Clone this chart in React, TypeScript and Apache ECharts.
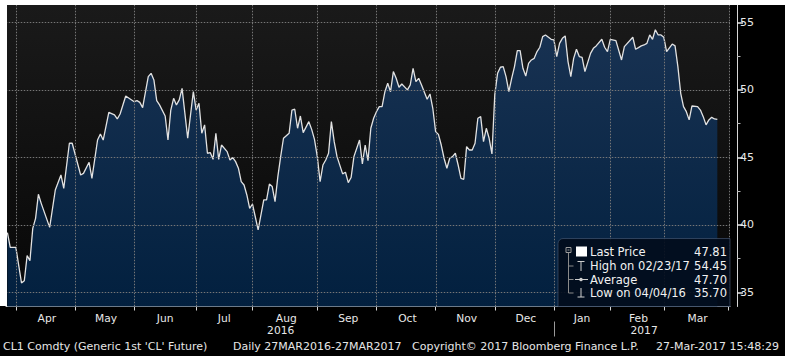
import React, { useEffect, useRef } from "react";
import * as echarts from "echarts";

// ---------- data ----------
const startDate = "2016-03-28";
const endDate = "2017-03-31";
const exchangeHolidays = [
  "2016-05-30", "2016-07-04", "2016-09-05", "2016-11-24",
  "2016-12-26", "2017-01-02", "2017-01-16", "2017-02-20",
];

// trading-day index (from 28 Mar 2016) of each point
const pointDay = [
  0, 1, 3, 5, 6, 7, 8, 9, 10, 11, 12, 15, 17, 19, 20, 22, 23, 26, 27, 29, 30, 32, 33, 34, 36, 38, 39, 40,
  42, 45, 46, 47, 48, 50, 51, 52, 53, 54, 56, 57, 58, 59, 60, 61, 62, 64, 66, 67, 68, 69, 70, 71, 72, 73,
  74, 75, 76, 78, 79, 80, 81, 82, 83, 84, 85, 86, 87, 89, 91, 92, 93, 94, 95, 96, 97, 98, 100, 101, 102,
  103, 104, 105, 107, 108, 109, 110, 111, 112, 113, 114, 115, 116, 117, 119, 120, 121, 122, 123, 125, 126,
  127, 128, 129, 130, 131, 132, 133, 134, 135, 136, 137, 138, 139, 140, 142, 143, 144, 145, 146, 147, 149,
  150, 151, 152, 153, 154, 155, 156, 157, 158, 159, 160, 161, 162, 163, 164, 165, 166, 167, 168, 169, 170,
  171, 172, 173, 174, 175, 176, 177, 178, 179, 180, 181, 182, 183, 184, 185, 186, 187, 188, 189, 190, 191,
  193, 194, 195, 196, 197, 198, 199, 200, 201, 202, 203, 204, 205, 207, 208, 209, 211, 212, 213, 214, 216,
  218, 219, 222, 223, 224, 225, 226, 227, 228, 229, 230, 231, 232, 233, 234, 236, 237, 238, 239, 240, 241,
  242, 243, 245, 246, 247, 248, 249, 250, 251, 252,
];
const pointPrice = [
  39.42, 38.33, 38.33, 35.7, 35.86, 37.72, 37.35, 39.74, 40.48, 42.26, 41.59, 39.81, 42.58, 43.69, 42.7,
  46.04, 46.04, 43.69, 43.81, 44.63, 43.44, 46.28, 46.73, 46.28, 48.33, 48.14, 47.84, 48.21,
  49.54, 49.12, 49.2, 49.07, 48.68, 50.98, 51.22, 50.73, 49.2, 48.88, 48.06, 46.28, 48.5, 49.37, 48.88,
  49.25, 50.11, 46.41, 49.86, 48.5, 49.0, 46.78, 47.4, 45.3, 45.35, 44.85,
  46.78, 44.85, 45.91, 45.42, 44.8, 44.98, 44.68, 44.19, 43.2, 42.95, 42.21, 41.22, 41.54, 39.62, 41.84,
  41.84, 43.02, 42.83, 41.72, 43.57, 45.05, 46.41, 46.78, 48.5, 48.56,
  47.15, 48.06, 46.83, 47.64, 47.07, 46.33, 45.05, 43.2, 44.43, 44.8, 45.3, 47.64, 46.16, 45.05, 43.77,
  43.89, 43.12, 43.5, 45.05, 46.28, 44.51,
  45.91, 44.75, 47.15, 47.89, 48.38, 48.75, 48.75, 49.86, 50.48, 49.86, 51.35, 50.85, 50.19, 50.43, 49.99,
  50.36, 51.59, 50.6, 50.85, 50.36, 49.3,
  49.69, 48.63, 46.9, 46.7, 45.91, 44.93, 44.19, 44.93, 45.05, 45.3, 44.43, 43.44, 43.37, 45.79, 45.54,
  45.54, 46.04, 47.89, 48.01, 46.16, 47.15,
  46.41, 45.25, 49.62, 51.22, 51.67, 51.72, 50.98, 49.86, 50.85, 51.72, 52.9, 52.9, 51.59, 51.02, 51.96,
  52.21, 52.33, 52.83, 53.15, 53.94, 54.06,
  53.74, 53.69, 52.46, 53.44, 53.81, 53.99, 52.09, 50.98, 52.33, 53.0, 52.46, 52.4, 51.35, 52.7, 53.07,
  53.25, 53.74, 53.15, 52.83, 53.74, 53.64,
  52.21, 53.2, 53.89, 53.0, 53.12, 53.25, 53.32, 53.44, 54.06, 53.74, 54.45, 54.06, 54.06, 53.89, 52.83,
  53.39, 53.25, 51.72, 49.74, 48.75, 48.38,
  47.77, 48.8, 48.75, 48.5, 48.01, 47.4, 47.77, 47.96, 47.84, 47.81,
];

const monthNames = ["Jan", "Feb", "Mar", "Apr", "May", "Jun", "Jul", "Aug", "Sep", "Oct", "Nov", "Dec"];
const yTicks = [35, 40, 45, 50, 55];
const yMinorTicks = [37.5, 42.5, 47.5, 52.5];
const yMin = 33.95;
const yMax = 56.28;
const lastPrice = 47.81;

const legendLabels = ["Last Price", "High on 02/23/17", "Average", "Low on 04/04/16"];
const legendValues = ["47.81", "54.45", "47.70", "35.70"];

const footerParts = [
  "CL1 Comdty (Generic 1st 'CL' Future)",
  "Daily 27MAR2016-27MAR2017",
  "Copyright\u00A9 2017 Bloomberg Finance L.P.",
  "27-Mar-2017 15:48:29",
];

// ---------- helpers ----------
function buildTradingDays(start: string, end: string, holidays: string[]): string[] {
  const out: string[] = [];
  const d = new Date(start + "T00:00:00Z");
  const e = new Date(end + "T00:00:00Z");
  while (d.getTime() <= e.getTime()) {
    const wd = d.getUTCDay();
    const s = d.toISOString().slice(0, 10);
    if (wd !== 0 && wd !== 6 && holidays.indexOf(s) < 0) out.push(s);
    d.setUTCDate(d.getUTCDate() + 1);
  }
  return out;
}

const tradingDays = buildTradingDays(startDate, endDate, exchangeHolidays);

const FONT = "DejaVu Sans";
const TXT = "#e8e8e8";

// plot rectangle (layout)
const G_LEFT = 6;
const G_TOP = 5;
const G_RIGHT = 730;
const G_BOTTOM = 306.5;

export default function App() {
  const ref = useRef<HTMLDivElement>(null);

  useEffect(() => {
    if (!ref.current) return;
    const chart = echarts.init(ref.current, null, { renderer: "svg" });

    const n = tradingDays.length;
    const monthEnd: number[] = [];
    const yearEnd = new Set<number>();
    const monthGroups: Record<string, number[]> = {};
    const yearGroups: Record<string, number[]> = {};
    tradingDays.forEach((d, i) => {
      const m = d.slice(0, 7);
      const y = d.slice(0, 4);
      if (i === n - 1 || m !== tradingDays[i + 1].slice(0, 7)) monthEnd.push(i);
      if (i < n - 1 && y !== tradingDays[i + 1].slice(0, 4)) yearEnd.add(i);
      (monthGroups[m] = monthGroups[m] || []).push(i);
      (yearGroups[y] = yearGroups[y] || []).push(i);
    });
    const monthEndSet = new Set<number>(monthEnd);
    const monthLabelIdx = new Set<number>();
    Object.keys(monthGroups).forEach((k) => {
      const g = monthGroups[k];
      if (g.length >= 10) monthLabelIdx.add(Math.floor((g[0] + g[g.length - 1]) / 2));
    });
    const yearLabelIdx = new Set<number>();
    Object.keys(yearGroups).forEach((k) => {
      const g = yearGroups[k];
      yearLabelIdx.add(Math.ceil((g[0] + g[g.length - 1]) / 2));
    });

    const seriesData = pointDay.map((d, i) => [tradingDays[d], pointPrice[i]]);

    const rowY = [251.5, 265.5, 279.5, 293];
    const legendEls: any[] = [
      {
        type: "rect", z: 100,
        shape: { x: 558, y: 238.5, width: 172, height: 68, r: [5, 0, 0, 0] },
        style: { fill: "rgba(2,12,28,0.9)", stroke: "rgba(80,100,130,0.55)", lineWidth: 1 },
      },
      { type: "rect", z: 101, shape: { x: 566, y: 247.5, width: 5, height: 5 }, style: { fill: "none", stroke: "#9a9a9a", lineWidth: 1 } },
      { type: "line", z: 101, shape: { x1: 567.5, y1: 250, x2: 569.5, y2: 250 }, style: { stroke: "#9a9a9a", lineWidth: 1 } },
      { type: "line", z: 101, shape: { x1: 568.5, y1: 253, x2: 568.5, y2: 293 }, style: { stroke: "#8a8a8a", lineWidth: 1 } },
      { type: "line", z: 101, shape: { x1: 568.5, y1: 266, x2: 573.5, y2: 266 }, style: { stroke: "#8a8a8a", lineWidth: 1 } },
      { type: "line", z: 101, shape: { x1: 568.5, y1: 279.5, x2: 573.5, y2: 279.5 }, style: { stroke: "#8a8a8a", lineWidth: 1 } },
      { type: "line", z: 101, shape: { x1: 568.5, y1: 293, x2: 573.5, y2: 293 }, style: { stroke: "#8a8a8a", lineWidth: 1 } },
      { type: "rect", z: 101, shape: { x: 576, y: 246.5, width: 11, height: 10 }, style: { fill: "#ffffff" } },
      { type: "line", z: 101, shape: { x1: 577.5, y1: 261.5, x2: 584.5, y2: 261.5 }, style: { stroke: "#cfcfcf", lineWidth: 1 } },
      { type: "line", z: 101, shape: { x1: 581, y1: 261.5, x2: 581, y2: 271 }, style: { stroke: "#cfcfcf", lineWidth: 1 } },
      { type: "line", z: 101, shape: { x1: 575, y1: 279.5, x2: 588, y2: 279.5 }, style: { stroke: "#cfcfcf", lineWidth: 1 } },
      { type: "circle", z: 101, shape: { cx: 581, cy: 279.5, r: 1.8 }, style: { fill: "#cfcfcf" } },
      { type: "line", z: 101, shape: { x1: 581, y1: 288, x2: 581, y2: 297 }, style: { stroke: "#cfcfcf", lineWidth: 1 } },
      { type: "line", z: 101, shape: { x1: 577.5, y1: 297, x2: 584.5, y2: 297 }, style: { stroke: "#cfcfcf", lineWidth: 1 } },
    ];
    legendLabels.forEach((t, i) => {
      legendEls.push({
        type: "text", z: 102, x: 590, y: rowY[i],
        style: { text: t, fill: "#f2f2f2", font: `11.5px '${FONT}'`, textVerticalAlign: "middle", textAlign: "left" },
      });
      legendEls.push({
        type: "text", z: 102, x: 727, y: rowY[i],
        style: { text: legendValues[i], fill: "#f2f2f2", font: `11.5px '${FONT}'`, textVerticalAlign: "middle", textAlign: "right" },
      });
    });

    const footerX = [3, 233, 412, 779];
    const footerAlign = ["left", "left", "left", "right"];
    const footerEls = footerParts.map((t, i) => ({
      type: "text", z: 102, x: footerX[i], y: 346,
      style: { text: t, fill: "#e6e6e6", font: `11px '${FONT}'`, textVerticalAlign: "middle", textAlign: footerAlign[i] },
    }));

    const bgEls = [
      {
        type: "rect", z: -10, silent: true,
        shape: { x: G_LEFT, y: G_TOP, width: G_RIGHT - G_LEFT, height: G_BOTTOM - G_TOP },
        style: {
          fill: new echarts.graphic.LinearGradient(0, 0, 0, 1, [
            { offset: 0, color: "#1a1a1a" },
            { offset: 1, color: "#070707" },
          ]),
        },
      },
    ];

    const marginEls = [
      { type: "rect", z: 200, shape: { x: 0, y: 0, width: 785, height: 5 }, style: { fill: "#ffffff" } },
      { type: "rect", z: 200, shape: { x: 0, y: 0, width: 7, height: 306 }, style: { fill: "#ffffff" } },
    ];

    chart.setOption({
      animation: false,
      backgroundColor: "#000000",
      textStyle: { fontFamily: FONT },
      grid: {
        left: G_LEFT,
        right: 785 - G_RIGHT,
        top: G_TOP,
        bottom: 356 - G_BOTTOM,
        show: false,
      },
      xAxis: [
        {
          type: "category",
          data: tradingDays,
          boundaryGap: true,
          position: "bottom",
          axisLine: { show: true, lineStyle: { color: "#d6d6d6", width: 1 } },
          axisTick: {
            show: true,
            alignWithLabel: true,
            interval: (i: number) => monthEndSet.has(i),
            length: 4,
            lineStyle: { color: "#d6d6d6", width: 1 },
          },
          axisLabel: {
            show: true,
            interval: (i: number) => monthLabelIdx.has(i),
            formatter: (v: string) => monthNames[Number(v.slice(5, 7)) - 1],
            color: TXT,
            fontFamily: FONT,
            fontSize: 10.7,
            margin: 6,
          },
          splitLine: { show: false },
        },
        {
          type: "category",
          data: tradingDays,
          boundaryGap: true,
          position: "bottom",
          offset: 15,
          axisLine: { show: false },
          axisTick: {
            show: true,
            alignWithLabel: true,
            interval: (i: number) => yearEnd.has(i),
            length: 15,
            lineStyle: { color: "#9a9a9a", width: 1 },
          },
          axisLabel: {
            show: true,
            interval: (i: number) => yearLabelIdx.has(i),
            formatter: (v: string) => v.slice(0, 4),
            color: TXT,
            fontFamily: FONT,
            fontSize: 10.7,
            margin: 3,
          },
          splitLine: { show: false },
        },
      ],
      yAxis: [
        {
          type: "value",
          position: "right",
          min: yMin,
          max: yMax,
          offset: 7,
          axisLine: { show: true, lineStyle: { color: "#d6d6d6", width: 1 } },
          axisTick: { show: true, customValues: yTicks, length: 6, lineStyle: { color: "#e6e6e6", width: 1.5 } },
          axisLabel: { show: true, customValues: yTicks, color: TXT, fontFamily: FONT, fontSize: 11, margin: 3 },
          splitLine: { show: false },
        },
        {
          type: "value",
          position: "right",
          min: yMin,
          max: yMax,
          offset: 7,
          axisLine: { show: false },
          axisTick: { show: true, customValues: yMinorTicks, length: 3.5, lineStyle: { color: "#bbbbbb", width: 1 } },
          axisLabel: { show: false },
          splitLine: { show: false },
        },
      ],
      series: [
        {
          type: "line",
          name: "Last Price",
          data: seriesData,
          xAxisIndex: 0,
          yAxisIndex: 0,
          showSymbol: false,
          symbol: "none",
          z: 2,
          lineStyle: { color: "#e2e2e2", width: 1.3 },
          areaStyle: {
            color: new echarts.graphic.LinearGradient(0, 0, 0, 1, [
              { offset: 0, color: "#183252" },
              { offset: 1, color: "#02203f" },
            ]),
            opacity: 1,
          },
          markLine: {
            silent: true,
            symbol: ["none", "none"],
            precision: 2,
            data: [
              {
                yAxis: lastPrice,
                lineStyle: { opacity: 0 },
                label: {
                  show: true,
                  position: "end",
                  distance: 6,
                  formatter: () => "{a|\u25C0}{b|" + lastPrice.toFixed(2) + "}",
                  rich: {
                    a: { color: "#ffffff", fontSize: 8, fontFamily: FONT, padding: [0, 0, 0, 0] },
                    b: { backgroundColor: "#ffffff", color: "#111111", fontSize: 11, fontFamily: FONT, padding: [2, 4, 1, 2] },
                  },
                },
              },
            ],
          },
        },
      ],
    });

    // grid lines placed through the chart's own scales
    const px = (i: number) => Number(chart.convertToPixel({ xAxisIndex: 0 } as any, tradingDays[i] as any));
    const py = (v: number) => Number(chart.convertToPixel({ yAxisIndex: 0 } as any, v as any));
    const gridEls: any[] = [];
    const faint = { stroke: "rgba(130,130,130,0.22)", lineWidth: 1 };
    const dots = { stroke: "#767676", lineWidth: 1, lineDash: [1, 2] };
    yTicks.forEach((v) => {
      const y = Math.round(py(v)) + 0.5;
      if (!isFinite(y)) return;
      gridEls.push({ type: "line", z: 50, silent: true, shape: { x1: G_LEFT, y1: y, x2: G_RIGHT, y2: y }, style: { ...faint } });
      gridEls.push({ type: "line", z: 51, silent: true, shape: { x1: G_LEFT, y1: y, x2: G_RIGHT, y2: y }, style: { ...dots } });
    });
    monthEnd.forEach((i) => {
      const x = Math.round(px(i)) + 0.5;
      if (!isFinite(x)) return;
      gridEls.push({ type: "line", z: 50, silent: true, shape: { x1: x, y1: G_TOP, x2: x, y2: G_BOTTOM }, style: { ...faint } });
      gridEls.push({ type: "line", z: 51, silent: true, shape: { x1: x, y1: G_TOP, x2: x, y2: G_BOTTOM }, style: { ...dots } });
    });

    chart.setOption({
      graphic: [...bgEls, ...gridEls, ...legendEls, ...footerEls, ...marginEls],
    });

    return () => chart.dispose();
  }, []);

  return (
    <div
      ref={ref}
      style={{ position: "absolute", left: 0, top: 0, width: "785px", height: "356px", background: "#000" }}
    />
  );
}
